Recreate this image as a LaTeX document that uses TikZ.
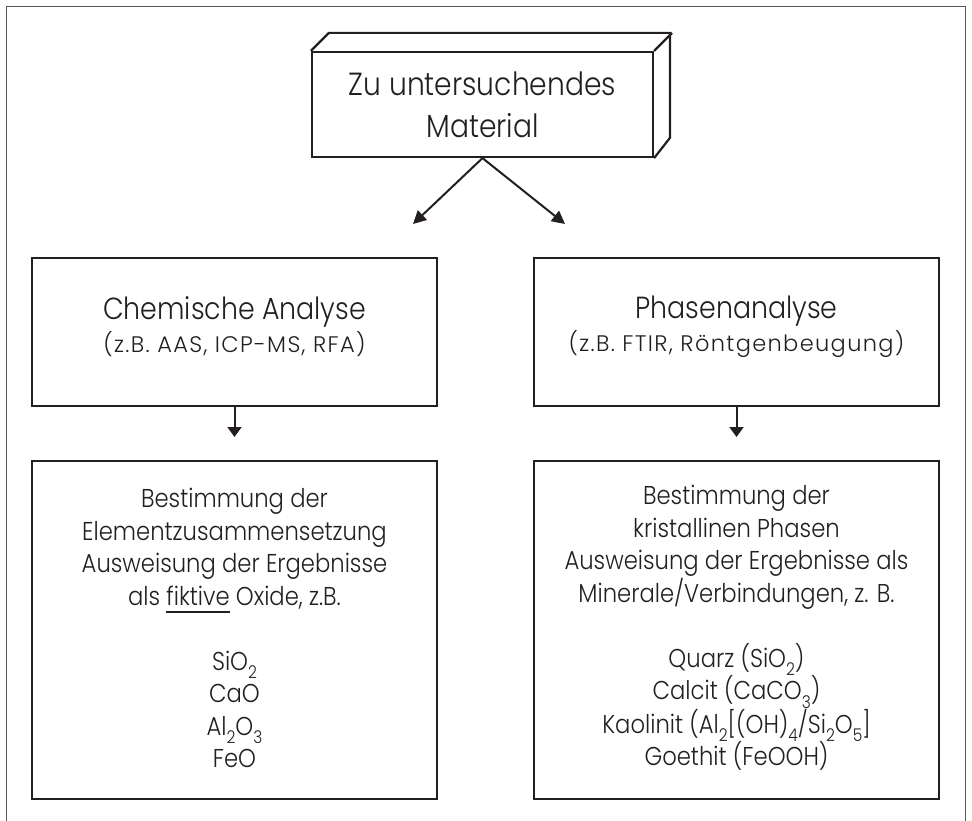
\documentclass[tikz,border=0pt]{standalone}
\usepackage{fontspec}
\setmainfont{Poppins Light}[FakeStretch=0.88]
\newfontfamily\smallf{Poppins Light}[LetterSpace=6]
\usetikzlibrary{arrows.meta}
\definecolor{ink}{HTML}{231F20}
\newcommand{\sbs}[1]{\raisebox{-0.32em}{\scalebox{0.68}{#1}}}
\newcommand{\ulx}[1]{\setbox0\hbox{#1}\rlap{\rule[-8pt]{\wd0}{1.8pt}}\box0\relax}
\begin{document}
\begin{tikzpicture}[x=1pt,y=-1pt,
  box/.style={draw=ink,line width=2.2pt,rectangle,inner sep=0pt},
  txt/.style={text=ink,align=center,inner sep=0pt},
  arrd/.style={draw=ink,line width=2pt,-{Triangle[length=13pt,width=13pt]}},
  arrv/.style={draw=ink,line width=2pt,-{Triangle[length=10pt,width=14pt]}}]
\useasboundingbox (0,0) rectangle (972,821);
\draw[black!65,line width=1.5pt] (6.5,821) -- (6.5,6.5) -- (965.5,6.5) -- (965.5,821);
% top 3D box
\node[box,minimum width=341pt,minimum height=105pt] (mat) at (482.5,104.5) {};
\draw[ink,line width=2.2pt,line join=miter] (mat.north west) -- ++(18,-18) -| ++(341,105) -- (mat.south east);
\draw[ink,line width=2.2pt] (mat.north east) -- ++(18,-18);
\node[txt,font=\fontsize{32}{42}\selectfont] (matT) at (482.5,104.5) {Zu untersuchendes\\Material};
% arrows from top
\coordinate (pl) at (413,224);
\coordinate (pr) at (565,224);
\draw[arrd] (mat.south) -- (pl);
\draw[arrd] (mat.south) -- (pr);
% middle boxes
\node[box,minimum width=405pt,minimum height=148pt] (chem) at (234.5,332) {};
\node[box,minimum width=405pt,minimum height=148pt] (phas) at (736.5,332) {};
\node[txt,font=\fontsize{30.5}{33}\selectfont] (chemT) at (234.5,327) {Chemische Analyse\\{\smallf\fontsize{22.5}{22}\selectfont (z.B. AAS, ICP-MS, RFA)}};
\node[txt,font=\fontsize{30.5}{33}\selectfont] (phasT) at (736.5,327) {Phasenanalyse\\{\smallf\fontsize{22.5}{22}\selectfont (z.B. FTIR, Röntgenbeugung)}};
% lower boxes
\node[box,minimum width=405pt,minimum height=338pt] (elem) at (234.5,630) {};
\node[box,minimum width=405pt,minimum height=338pt] (krist) at (736.5,630) {};
\coordinate (dl) at (234.5,437);
\coordinate (dr) at (736.5,437);
\draw[arrv] (chem.south) -- (dl);
\draw[arrv] (phas.south) -- (dr);
\node[txt,font=\fontsize{25.8}{32.5}\selectfont] (elemT) at (234.5,628) {Bestimmung der\\Elementzusammensetzung\\Ausweisung der Ergebnisse\\als \ulx{fiktive} Oxide, z.B.\\[32.5pt]SiO\sbs{2}\\CaO\\Al\sbs{2}O\sbs{3}\\FeO};
\node[txt,font=\fontsize{25.8}{32.5}\selectfont] (kristT) at (736.5,628) {Bestimmung der\\kristallinen Phasen\\Ausweisung der Ergebnisse als\\Minerale/Verbindungen, z. B.\\[32.5pt]Quarz (SiO\sbs{2})\\Calcit (CaCO\sbs{3})\\Kaolinit (Al\sbs{2}[(OH)\sbs{4}/Si\sbs{2}O\sbs{5}]\\Goethit (FeOOH)};
\end{tikzpicture}
\end{document}
